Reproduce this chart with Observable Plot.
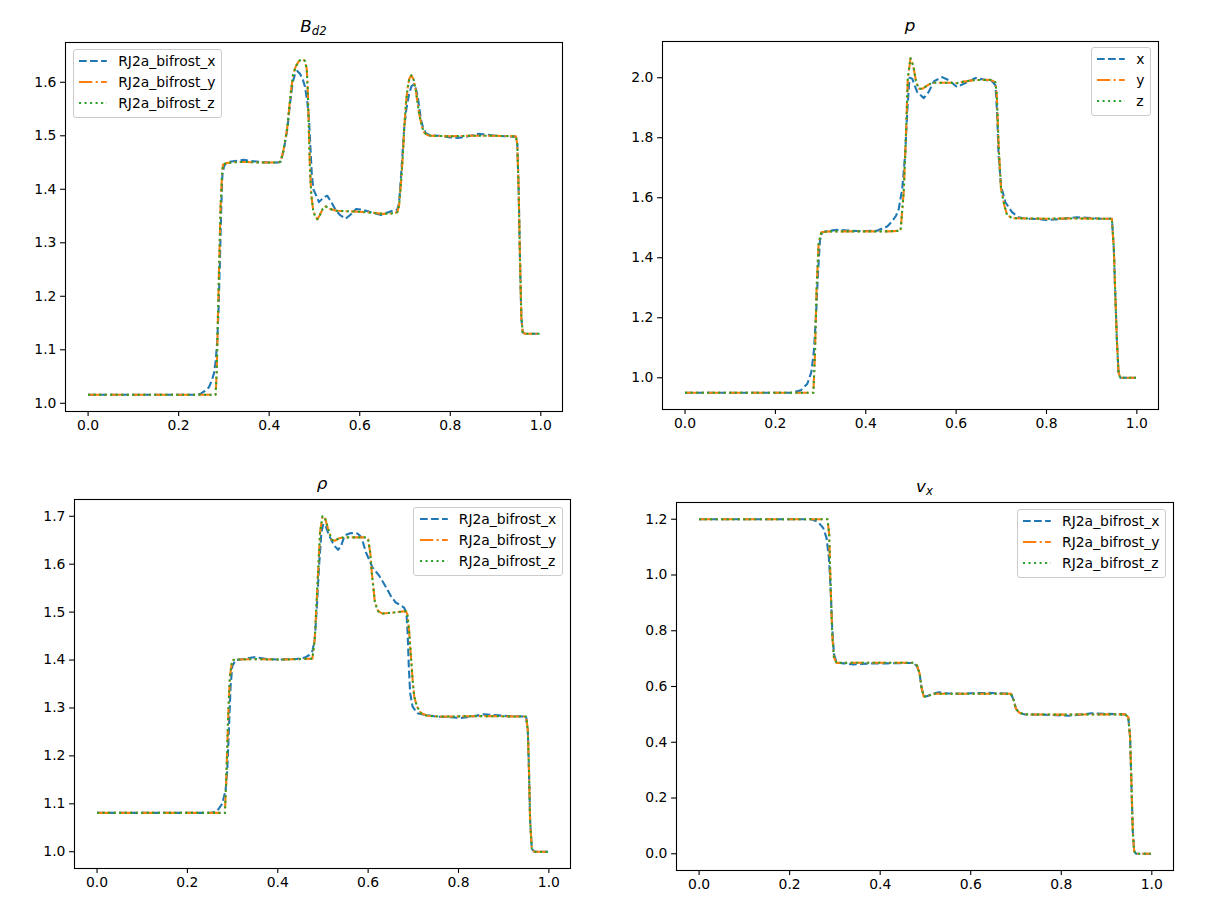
<!DOCTYPE html>
<html><head><meta charset="utf-8">
<script src="https://cdn.jsdelivr.net/npm/d3@7"></script>
<script src="https://cdn.jsdelivr.net/npm/@observablehq/plot@0.6"></script>
<style>
body{margin:0;background:#fff;}
#fig{position:relative;width:1224px;height:916px;background:#fff;font-family:'DejaVu Sans';overflow:hidden;}
#fig svg{position:absolute;}
.title{position:absolute;text-align:center;font-size:16.7px;line-height:1;font-style:italic;white-space:nowrap;color:#000;}
.title sub{font-size:0.7em;vertical-align:-0.28em;line-height:0;}
.legend{position:absolute;background:rgba(255,255,255,0.8);border:1px solid #cccccc;border-radius:3px;padding:0.5px 5.6px 3.5px 5.6px;font:13.9px 'DejaVu Sans';color:#000;}
.legend .row{display:flex;align-items:center;height:21px;white-space:nowrap;}
</style></head><body><div id="fig"></div><script>
// ---------- data ----------
const xTicks = [0.0, 0.2, 0.4, 0.6, 0.8, 1.0];
const bd2Ticks = [1.0, 1.1, 1.2, 1.3, 1.4, 1.5, 1.6];
const pTicks = [1.0, 1.2, 1.4, 1.6, 1.8, 2.0];
const rhoTicks = [1.0, 1.1, 1.2, 1.3, 1.4, 1.5, 1.6, 1.7];
const vxTicks = [0.0, 0.2, 0.4, 0.6, 0.8, 1.0, 1.2];

const labelsLong = ["RJ2a_bifrost_x", "RJ2a_bifrost_y", "RJ2a_bifrost_z"];
const labelsShort = ["x", "y", "z"];
const colors = ["#1f77b4", "#ff7f0e", "#2ca02c"];
const dashes = ["7.7,3.33", "13.3,3.33,2.08,3.33", "2.08,3.44"];

// B_d2
const bd2_x = [[0,1.016],[0.24,1.016],[0.249,1.018],[0.258,1.023],[0.267,1.03],[0.273,1.042],[0.278,1.056],[0.282,1.08],[0.2854,1.118],[0.288,1.17],[0.291,1.26],[0.294,1.36],[0.2965,1.425],[0.3,1.442],[0.304,1.448],[0.31,1.451],[0.325,1.453],[0.344,1.455],[0.36,1.453],[0.38,1.451],[0.4,1.45],[0.42,1.45],[0.4255,1.452],[0.432,1.472],[0.44,1.512],[0.446,1.56],[0.452,1.6],[0.457,1.615],[0.462,1.621],[0.468,1.616],[0.474,1.606],[0.479,1.592],[0.484,1.565],[0.488,1.53],[0.491,1.48],[0.494,1.43],[0.4975,1.4],[0.503,1.39],[0.51,1.376],[0.519,1.384],[0.528,1.388],[0.536,1.378],[0.545,1.364],[0.556,1.352],[0.569,1.345],[0.58,1.353],[0.592,1.363],[0.605,1.362],[0.625,1.357],[0.647,1.352],[0.66,1.356],[0.673,1.36],[0.683,1.362],[0.687,1.375],[0.69,1.41],[0.694,1.46],[0.698,1.512],[0.703,1.55],[0.709,1.578],[0.714,1.592],[0.719,1.596],[0.724,1.588],[0.728,1.574],[0.732,1.55],[0.735,1.531],[0.74,1.515],[0.746,1.505],[0.755,1.501],[0.775,1.5],[0.8,1.497],[0.816,1.496],[0.84,1.499],[0.861,1.5035],[0.88,1.502],[0.9,1.5],[0.925,1.499],[0.945,1.498],[0.948,1.485],[0.951,1.4],[0.954,1.27],[0.957,1.16],[0.96,1.133],[0.965,1.13],[0.98,1.13],[0.998,1.13]];
const bd2_y = [[0,1.016],[0.2816,1.016],[0.284,1.056],[0.2865,1.15],[0.289,1.242],[0.2926,1.366],[0.296,1.43],[0.298,1.446],[0.306,1.449],[0.33,1.451],[0.35,1.451],[0.38,1.45],[0.4,1.45],[0.42,1.45],[0.4255,1.452],[0.432,1.475],[0.44,1.515],[0.4476,1.58],[0.453,1.615],[0.459,1.63],[0.466,1.64],[0.4735,1.643],[0.479,1.64],[0.483,1.625],[0.4855,1.58],[0.488,1.5],[0.49,1.44],[0.493,1.39],[0.497,1.362],[0.501,1.35],[0.5066,1.344],[0.512,1.352],[0.518,1.363],[0.525,1.368],[0.535,1.363],[0.549,1.36],[0.57,1.359],[0.6,1.358],[0.63,1.356],[0.65,1.354],[0.67,1.355],[0.683,1.357],[0.687,1.37],[0.691,1.41],[0.695,1.46],[0.698,1.51],[0.702,1.56],[0.706,1.59],[0.7095,1.607],[0.714,1.613],[0.719,1.605],[0.724,1.585],[0.728,1.56],[0.7315,1.54],[0.737,1.518],[0.7425,1.506],[0.75,1.501],[0.757,1.5],[0.8,1.499],[0.84,1.5],[0.9,1.5],[0.945,1.499],[0.948,1.485],[0.951,1.4],[0.954,1.27],[0.957,1.16],[0.96,1.133],[0.965,1.13],[0.998,1.13]];
const bd2_z = bd2_y;

// p
const p_x = [[0,0.95],[0.234,0.95],[0.256,0.958],[0.2707,0.98],[0.2795,1.019],[0.2853,1.091],[0.2897,1.202],[0.2942,1.347],[0.2986,1.458],[0.304,1.485],[0.315,1.489],[0.337,1.493],[0.36,1.491],[0.38,1.489],[0.4,1.489],[0.4254,1.49],[0.44,1.5],[0.4475,1.504],[0.4586,1.522],[0.467,1.54],[0.473,1.563],[0.4807,1.63],[0.487,1.741],[0.4917,1.885],[0.4968,2.0],[0.5028,1.997],[0.508,1.975],[0.514,1.952],[0.5284,1.932],[0.539,1.952],[0.5505,1.988],[0.569,2.002],[0.5837,1.992],[0.602,1.969],[0.624,1.985],[0.6427,1.999],[0.661,1.994],[0.6796,1.988],[0.687,1.975],[0.6906,1.885],[0.694,1.741],[0.6994,1.64],[0.709,1.585],[0.7237,1.552],[0.738,1.535],[0.757,1.53],[0.78,1.529],[0.8,1.526],[0.83,1.529],[0.867,1.535],[0.89,1.533],[0.92,1.53],[0.9447,1.53],[0.946,1.5],[0.949,1.43],[0.952,1.29],[0.9558,1.124],[0.9594,1.019],[0.963,1.0],[0.97,1.0],[0.998,1.0]];
const p_y = [[0,0.95],[0.284,0.95],[0.2876,1.08],[0.291,1.291],[0.2956,1.447],[0.3016,1.485],[0.32,1.488],[0.36,1.488],[0.4,1.488],[0.45,1.488],[0.477,1.49],[0.484,1.619],[0.4895,1.83],[0.493,1.997],[0.499,2.065],[0.505,2.04],[0.511,1.99],[0.517,1.963],[0.525,1.963],[0.536,1.974],[0.547,1.983],[0.587,1.983],[0.602,1.982],[0.617,1.987],[0.639,1.992],[0.676,1.993],[0.687,1.985],[0.69,1.941],[0.694,1.774],[0.6994,1.63],[0.7067,1.574],[0.7127,1.543],[0.724,1.532],[0.76,1.531],[0.8,1.53],[0.85,1.531],[0.9447,1.53],[0.946,1.5],[0.949,1.43],[0.952,1.29],[0.9558,1.124],[0.9594,1.019],[0.963,1.0],[0.998,1.0]];
const p_z = p_y;

// rho
const rho_x = [[0,1.081],[0.2512,1.081],[0.266,1.085],[0.277,1.1],[0.2845,1.128],[0.2882,1.17],[0.2918,1.254],[0.2956,1.345],[0.2993,1.387],[0.3067,1.4],[0.325,1.402],[0.347,1.406],[0.37,1.403],[0.398,1.401],[0.4435,1.4025],[0.46,1.405],[0.469,1.41],[0.4767,1.4185],[0.4818,1.443],[0.4863,1.506],[0.4914,1.597],[0.4966,1.667],[0.501,1.684],[0.5059,1.68],[0.5136,1.66],[0.5247,1.639],[0.5336,1.63],[0.54,1.638],[0.548,1.66],[0.5617,1.665],[0.5765,1.664],[0.5854,1.656],[0.595,1.625],[0.6098,1.593],[0.6244,1.576],[0.639,1.553],[0.65,1.534],[0.661,1.52],[0.6725,1.514],[0.68,1.509],[0.685,1.495],[0.6874,1.457],[0.69,1.387],[0.693,1.331],[0.6984,1.303],[0.709,1.289],[0.724,1.286],[0.75,1.282],[0.78,1.281],[0.8056,1.279],[0.83,1.282],[0.857,1.287],[0.88,1.285],[0.91,1.283],[0.9497,1.282],[0.9534,1.254],[0.956,1.17],[0.9585,1.066],[0.9623,1.006],[0.968,1.0],[0.998,1.0]];
const rho_y = [[0,1.081],[0.283,1.081],[0.286,1.15],[0.29,1.275],[0.294,1.366],[0.2993,1.4],[0.307,1.401],[0.35,1.402],[0.4,1.401],[0.45,1.402],[0.4767,1.403],[0.4818,1.443],[0.4863,1.527],[0.49,1.597],[0.4936,1.667],[0.499,1.7],[0.504,1.698],[0.5113,1.674],[0.519,1.651],[0.526,1.649],[0.5357,1.654],[0.547,1.656],[0.595,1.656],[0.6,1.652],[0.6045,1.625],[0.608,1.583],[0.612,1.548],[0.615,1.52],[0.622,1.502],[0.632,1.497],[0.65,1.4985],[0.6836,1.502],[0.687,1.495],[0.691,1.457],[0.6947,1.408],[0.6984,1.359],[0.702,1.324],[0.708,1.303],[0.717,1.289],[0.7317,1.2836],[0.76,1.282],[0.85,1.283],[0.9497,1.282],[0.9534,1.254],[0.956,1.17],[0.9585,1.066],[0.9623,1.006],[0.968,1.0],[0.998,1.0]];
const rho_z = rho_y;

// v_x
const vx_x = [[0,1.2],[0.248,1.2],[0.263,1.19],[0.274,1.169],[0.2815,1.133],[0.2867,1.062],[0.2904,0.955],[0.294,0.812],[0.2978,0.717],[0.3037,0.686],[0.32,0.683],[0.3407,0.679],[0.37,0.682],[0.4148,0.683],[0.45,0.684],[0.474,0.684],[0.4815,0.672],[0.4874,0.643],[0.491,0.598],[0.4963,0.566],[0.5037,0.565],[0.515,0.574],[0.5296,0.579],[0.55,0.575],[0.58,0.574],[0.6,0.576],[0.64,0.577],[0.689,0.574],[0.695,0.55],[0.7,0.52],[0.7074,0.506],[0.7185,0.5],[0.76,0.499],[0.79,0.497],[0.815,0.495],[0.84,0.499],[0.867,0.504],[0.9,0.502],[0.941,0.5],[0.948,0.49],[0.952,0.42],[0.955,0.25],[0.958,0.08],[0.961,0.01],[0.965,0.0],[0.998,0.0]];
const vx_y = [[0,1.2],[0.2837,1.2],[0.2874,1.145],[0.2904,0.967],[0.294,0.788],[0.2978,0.705],[0.3037,0.6845],[0.35,0.685],[0.4,0.685],[0.45,0.685],[0.474,0.685],[0.4815,0.675],[0.4874,0.645],[0.491,0.598],[0.4963,0.564],[0.5037,0.563],[0.515,0.574],[0.55,0.574],[0.6,0.574],[0.65,0.574],[0.689,0.574],[0.695,0.55],[0.7,0.52],[0.7074,0.506],[0.7185,0.5],[0.8,0.499],[0.9,0.5],[0.941,0.5],[0.948,0.49],[0.952,0.42],[0.955,0.25],[0.958,0.08],[0.961,0.01],[0.965,0.0],[0.998,0.0]];
const vx_z = vx_y;

// ---------- layout ----------
const panels = [
  {series:[bd2_x,bd2_y,bd2_z], yTicks:bd2Ticks, col:0, row:0, m:[42,50,47,65], title:"B<sub>d2</sub>", labels:labelsLong, leg:{left:"72.7px", top:"49.3px"}},
  {series:[p_x,p_y,p_z], yTicks:pTicks, col:1, row:0, m:[41,66,49,50], title:"p", labels:labelsShort, leg:{right:"73px", top:"47.3px"}},
  {series:[rho_x,rho_y,rho_z], yTicks:rhoTicks, col:0, row:1, m:[41,42,48,74], title:"ρ", labels:labelsLong, leg:{right:"661.3px", top:"506.7px"}},
  {series:[vx_x,vx_y,vx_z], yTicks:vxTicks, col:1, row:1, m:[44,51,46,64], title:"v<sub>x</sub>", labels:labelsLong, leg:{right:"58px", top:"509.3px"}}
];

const fig = document.getElementById("fig");
const W = 612, H = 458;
const LW = 2.08;
const fmt = d3.format(".1f");

for (const pn of panels) {
  const all = pn.series.flat();
  const [ylo, yhi] = d3.extent(all, d => d[1]);
  const [xlo, xhi] = d3.extent(all, d => d[0]);
  const yp = (yhi - ylo) * 0.05, xp = (xhi - xlo) * 0.05;
  const [mt, mr, mb, ml] = pn.m;
  const svg = Plot.plot({
    width: W, height: H,
    marginTop: mt, marginRight: mr, marginBottom: mb, marginLeft: ml,
    x: {domain: [xlo - xp, xhi + xp]},
    y: {domain: [ylo - yp, yhi + yp]},
    style: {background: "transparent", fontFamily: "'DejaVu Sans'", fontSize: "13.9px", color: "black", overflow: "visible"},
    marks: [
      ...pn.series.map((s, i) => Plot.line(s, {x: d => d[0], y: d => d[1], stroke: colors[i], strokeWidth: LW, strokeDasharray: dashes[i], strokeLinejoin: "round", strokeLinecap: "butt"})),
      Plot.frame({stroke: "black", strokeWidth: 1.1}),
      Plot.axisX({ticks: xTicks, tickFormat: fmt, tickSize: 4.9, tickPadding: 4.2, label: null, fontSize: 13.9, strokeWidth: 1.1}),
      Plot.axisY({ticks: pn.yTicks, tickFormat: fmt, tickSize: 4.9, tickPadding: 4.2, label: null, fontSize: 13.9, strokeWidth: 1.1})
    ]
  });
  svg.style.left = (pn.col * W) + "px";
  svg.style.top = (pn.row * H) + "px";
  fig.appendChild(svg);

  // title
  const fl = pn.col * W + ml, fr = pn.col * W + W - mr, ft = pn.row * H + mt;
  const t = document.createElement("div");
  t.className = "title";
  t.innerHTML = pn.title;
  t.style.left = fl + "px";
  t.style.width = (fr - fl) + "px";
  t.style.top = (ft - 8.3 - 15.5) + "px";
  fig.appendChild(t);

  // legend
  const box = document.createElement("div");
  box.className = "legend";
  Object.assign(box.style, pn.leg);
  pn.labels.forEach((lab, i) => {
    const row = document.createElement("div");
    row.className = "row";
    row.innerHTML = `<svg width="27.8" height="10" style="position:static;margin-right:11.1px"><line x1="0" y1="5" x2="27.8" y2="5" stroke="${colors[i]}" stroke-width="${LW}" stroke-dasharray="${dashes[i]}"/></svg><span>${lab}</span>`;
    box.appendChild(row);
  });
  fig.appendChild(box);
}
</script></body></html>
